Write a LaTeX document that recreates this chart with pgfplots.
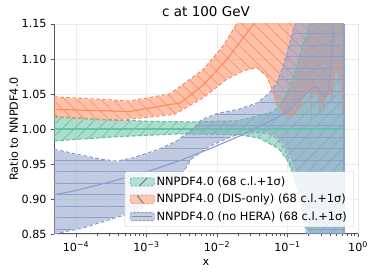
\documentclass[border=0pt]{standalone}
\usepackage{fontspec}
\setmainfont{DejaVu Sans}
\usepackage{pgfplots}
\pgfplotsset{compat=1.18}
\usepgfplotslibrary{fillbetween}
\usetikzlibrary{patterns.meta}
\definecolor{sgreen}{HTML}{66C2A5}
\definecolor{sorange}{HTML}{FC8D62}
\definecolor{sblue}{HTML}{8DA0CB}
\definecolor{spine}{HTML}{555555}
\begin{document}
\fontsize{11.2}{13}\selectfont
\begin{tikzpicture}
\begin{axis}[
  scale only axis, width=304pt, height=210pt,
  xmode=log, xmin=4.88e-5, xmax=1.0, ymin=0.85, ymax=1.15,
  xtick={1e-4,1e-3,1e-2,1e-1,1},
  xticklabels={10\textsuperscript{−4},10\textsuperscript{−3},10\textsuperscript{−2},10\textsuperscript{−1},10\textsuperscript{0}},
  ytick={0.85,0.90,0.95,1.00,1.05,1.10,1.15},
  yticklabels={0.85,0.90,0.95,1.00,1.05,1.10,1.15},
  /pgf/number format/assume math mode=true,
  tick label style={font=\fontsize{11.2}{13}\selectfont},
  axis x line*=bottom, axis y line*=left,
  x axis line style={-, spine, line width=1pt},
  y axis line style={-, spine, line width=1pt},
  tick align=outside,
  major tick length=3.5pt, minor tick length=2pt,
  every tick/.style={spine, line width=0.7pt},
  grid=major, major grid style={black!8, line width=0.6pt},
  title={c at 100 GeV},
  title style={font=\fontsize{13.5}{15}\selectfont, yshift=-3pt},
  xlabel={x}, ylabel={Ratio to NNPDF4.0},
  xlabel style={yshift=0pt},
  ylabel style={yshift=-4pt},
  legend cell align=left,
  legend style={at={(1,0)}, anchor=south east, xshift=-4pt, yshift=7pt,
    draw=black!20, rounded corners=2pt, fill=white, fill opacity=0.85, text opacity=1,
    font=\fontsize{11.4}{13}\selectfont, row sep=3pt, inner xsep=5pt, inner ysep=3pt},
]
% ---------------- green: NNPDF4.0 ----------------
\addplot[name path=gu, draw=none, forget plot] coordinates {
 (4.88e-5,1.018) (2.2e-4,1.014) (1e-3,1.011) (5e-3,1.010) (2e-2,1.012) (4e-2,1.019)
 (6.3e-2,1.025) (8e-2,1.035) (9.75e-2,1.051) (0.121,1.075) (0.135,1.089) (0.17,1.125)
 (0.208,1.15) (0.25,1.3) (0.63,1.3)};
\addplot[name path=gl, draw=none, forget plot] coordinates {
 (4.88e-5,0.983) (3.8e-4,0.989) (3e-3,0.993) (2e-2,0.992) (4e-2,0.987) (7.5e-2,0.972)
 (0.1,0.955) (0.12,0.935) (0.15,0.903) (0.197,0.856) (0.22,0.82) (0.63,0.7)};
\addplot[fill=sgreen, fill opacity=0.55, draw=none, forget plot,
  postaction={pattern={Lines[angle=45,distance=8.5pt,line width=0.6pt]}, pattern color=sgreen}]
  fill between[of=gu and gl];
\addplot[sgreen, dashed, dash pattern=on 4pt off 2pt, line width=1.1pt, forget plot] coordinates {
 (4.88e-5,1.018) (2.2e-4,1.014) (1e-3,1.011) (5e-3,1.010) (2e-2,1.012) (4e-2,1.019)
 (6.3e-2,1.025) (8e-2,1.035) (9.75e-2,1.051) (0.121,1.075) (0.135,1.089) (0.17,1.125)
 (0.208,1.15) (0.25,1.3)};
\addplot[sgreen, dashed, dash pattern=on 4pt off 2pt, line width=1.1pt, forget plot] coordinates {
 (4.88e-5,0.983) (3.8e-4,0.989) (3e-3,0.993) (2e-2,0.992) (4e-2,0.987) (7.5e-2,0.972)
 (0.1,0.955) (0.12,0.935) (0.15,0.903) (0.197,0.856) (0.22,0.82)};
\addplot[sgreen, line width=1.2pt, forget plot] coordinates {(4.88e-5,1.0) (0.632,1.0)};
% ---------------- orange: DIS-only ----------------
\addplot[name path=ou, draw=none, forget plot] coordinates {
 (4.88e-5,1.045) (5.8e-4,1.039) (2.15e-3,1.049) (6.4e-3,1.084) (1.23e-2,1.118)
 (1.9e-2,1.15) (3e-2,1.2) (5e-2,1.3) (0.632,1.5)};
\addplot[name path=ol, draw=none, forget plot] coordinates {
 (4.88e-5,1.018) (3.8e-4,1.013) (2.5e-3,1.022) (6.4e-3,1.046) (1.37e-2,1.072)
 (2.34e-2,1.084) (3.66e-2,1.087) (5.07e-2,1.075) (6.3e-2,1.052) (7.0e-2,1.035)
 (8.7e-2,1.025) (0.1,1.018) (0.121,1.018) (0.15,1.03) (0.18,1.05) (0.197,1.06)
 (0.205,1.035) (0.21,1.06) (0.218,1.002) (0.226,1.055) (0.245,1.05) (0.27,1.045)
 (0.29,1.015) (0.305,1.04) (0.33,1.02) (0.35,1.045) (0.401,1.05) (0.43,1.035)
 (0.46,1.07) (0.5,1.09) (0.53,1.06) (0.556,1.085) (0.6,1.04) (0.62,1.0) (0.632,0.99)};
\addplot[fill=sorange, fill opacity=0.55, draw=none, forget plot,
  postaction={pattern={Lines[angle=-45,distance=8.5pt,line width=0.6pt]}, pattern color=sorange}]
  fill between[of=ou and ol];
\addplot[sorange, dashed, dash pattern=on 4pt off 2pt, line width=1.1pt, forget plot] coordinates {
 (4.88e-5,1.046) (5.8e-4,1.040) (2.15e-3,1.050) (6.4e-3,1.085) (1.23e-2,1.119)
 (1.9e-2,1.15) (3e-2,1.2)};
\addplot[sorange, dashed, dash pattern=on 4pt off 2pt, line width=1.1pt, forget plot] coordinates {
 (4.88e-5,1.017) (3.8e-4,1.012) (2.5e-3,1.021) (6.4e-3,1.045) (1.37e-2,1.071)
 (2.34e-2,1.083) (3.66e-2,1.088) (5.07e-2,1.076) (6.3e-2,1.052) (7.0e-2,1.035)
 (8.7e-2,1.025) (0.1,1.019) (0.121,1.020) (0.15,1.032) (0.197,1.063) (0.245,1.053)
 (0.305,1.044) (0.401,1.051) (0.499,1.094) (0.556,1.089) (0.618,1.018) (0.632,1.0)};
\addplot[sorange, line width=1.2pt, forget plot] coordinates {
 (4.88e-5,1.028) (5.8e-4,1.025) (2.15e-3,1.035) (3e-3,1.037) (6.4e-3,1.063)
 (1.37e-2,1.099) (2.64e-2,1.137) (3.3e-2,1.15) (5e-2,1.2) (0.1,1.3)};
% ---------------- blue: no HERA ----------------
\addplot[name path=bu, draw=none, forget plot] coordinates {
 (4.88e-5,0.970) (2.2e-4,0.956) (3.8e-4,0.953) (6.5e-4,0.958) (1.5e-3,0.970)
 (2.7e-3,0.982) (4.6e-3,1.000) (6e-3,1.012) (1e-2,1.021) (2e-2,1.027) (3.7e-2,1.036)
 (5.5e-2,1.05) (7e-2,1.065) (8.7e-2,1.089) (0.1,1.11) (0.12,1.14) (0.13,1.15)
 (0.15,1.2) (0.632,1.4)};
\addplot[name path=bl, draw=none, forget plot] coordinates {
 (4.88e-5,0.851) (1.3e-4,0.860) (3.8e-4,0.875) (6.5e-4,0.881) (1.1e-3,0.895)
 (2e-3,0.915) (3e-3,0.932) (4.3e-3,0.958) (8e-3,0.977) (1.7e-2,0.991) (2.5e-2,0.995)
 (4e-2,0.996) (5.5e-2,0.994) (7e-2,0.989) (9e-2,0.976) (0.1,0.968) (0.12,0.950)
 (0.135,0.930) (0.15,0.908) (0.17,0.88) (0.19,0.85) (0.25,0.7) (0.632,0.6)};
\addplot[fill=sblue, fill opacity=0.55, draw=none, forget plot,
  postaction={pattern={Lines[angle=0,distance=11.5pt,line width=0.6pt]}, pattern color=sblue}]
  fill between[of=bu and bl];
\addplot[sblue, dashed, dash pattern=on 4pt off 2pt, line width=1.1pt, forget plot] coordinates {
 (4.88e-5,0.971) (2.2e-4,0.957) (3.8e-4,0.954) (6.5e-4,0.959) (1.5e-3,0.971)
 (2.7e-3,0.983) (4.6e-3,1.001) (6e-3,1.013) (1e-2,1.022) (2e-2,1.028) (3.7e-2,1.037)
 (5.5e-2,1.051) (7e-2,1.066) (8.7e-2,1.090) (0.1,1.111) (0.12,1.141) (0.13,1.15) (0.15,1.2)};
\addplot[sblue, dashed, dash pattern=on 4pt off 2pt, line width=1.1pt, forget plot] coordinates {
 (4.88e-5,0.850) (1.3e-4,0.859) (3.8e-4,0.874) (6.5e-4,0.880) (1.1e-3,0.894)
 (2e-3,0.914) (3e-3,0.931) (4.3e-3,0.957) (8e-3,0.976) (1.7e-2,0.990) (2.5e-2,0.994)
 (4e-2,0.995) (5.5e-2,0.993) (7e-2,0.987) (9e-2,0.972) (0.1,0.962) (0.12,0.942)
 (0.135,0.922) (0.15,0.900) (0.17,0.872) (0.19,0.845)};
\addplot[sblue, line width=1.2pt, forget plot] coordinates {
 (4.88e-5,0.906) (1e-4,0.912) (3.8e-4,0.927) (1.1e-3,0.940) (3e-3,0.955) (8e-3,0.972)
 (2.1e-2,0.990) (4e-2,1.004) (7e-2,1.016) (0.1,1.025) (0.15,1.042) (0.22,1.058)
 (0.26,1.060) (0.3,1.050) (0.34,1.046) (0.38,1.055) (0.41,1.09) (0.45,1.15) (0.5,1.25)};
\addplot[sblue, line width=1.2pt, forget plot] coordinates {(0.632,0.85) (0.632,1.15)};
% ---------------- legend ----------------
\addlegendimage{legend image code/.code={
  \fill[sgreen!55!white] (0pt,-4pt) rectangle (24pt,4pt);
  \draw[sgreen, dash pattern=on 2.5pt off 1.5pt, line width=0.8pt] (0pt,-4pt) rectangle (24pt,4pt);
  \draw[black!55, line width=0.9pt] (9pt,-4pt) -- (17pt,4pt);}}
\addlegendentry{NNPDF4.0 (68 c.l.+1σ)}
\addlegendimage{legend image code/.code={
  \fill[sorange!55!white] (0pt,-4pt) rectangle (24pt,4pt);
  \draw[sorange, dash pattern=on 2.5pt off 1.5pt, line width=0.8pt] (0pt,-4pt) rectangle (24pt,4pt);
  \draw[black!55, line width=0.9pt] (7pt,4pt) -- (13pt,-4pt);}}
\addlegendentry{NNPDF4.0 (DIS-only) (68 c.l.+1σ)}
\addlegendimage{legend image code/.code={
  \fill[sblue!60!white] (0pt,-4pt) rectangle (24pt,4pt);
  \draw[sblue, dash pattern=on 2.5pt off 1.5pt, line width=0.8pt] (0pt,-4pt) rectangle (24pt,4pt);
  \draw[black!45, line width=0.9pt] (2pt,0pt) -- (22pt,0pt);}}
\addlegendentry{NNPDF4.0 (no HERA) (68 c.l.+1σ)}
\coordinate (ll) at (rel axis cs:0,0);
\coordinate (ur) at (rel axis cs:1,1);
\end{axis}
\pgfresetboundingbox
\path ([shift={(-54pt,-41pt)}]ll) rectangle ([shift={(16pt,24pt)}]ur);
\end{tikzpicture}
\end{document}
